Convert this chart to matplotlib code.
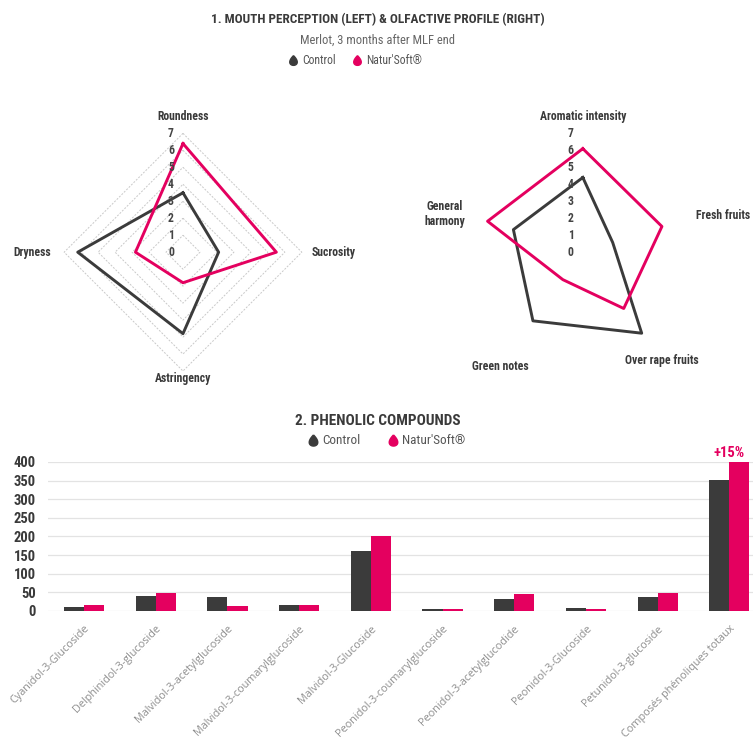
import numpy as np
import matplotlib
matplotlib.use("Agg")
import matplotlib.pyplot as plt
from matplotlib.path import Path
from matplotlib import font_manager
from matplotlib.transforms import offset_copy

# 1. mouth perception (left radar)
mouth_axes = ['Roundness', 'Sucrosity', 'Astringency', 'Dryness']
mouth_control = [3.5, 2.1, 4.8, 6.2]
mouth_natursoft = [6.4, 5.5, 1.8, 2.8]

# 1. olfactive profile (right radar)
olf_axes = ['Aromatic intensity', 'Fresh fruits', 'Over rape fruits',
            'Green notes', 'General\nharmony']
olf_control = [4.4, 1.85, 5.9, 5.0, 4.3]
olf_natursoft = [6.1, 4.9, 4.1, 2.0, 5.9]

radar_ticks = [0, 1, 2, 3, 4, 5, 6, 7]

# 2. phenolic compounds
compounds = ['Cyanidol-3-Glucoside', 'Delphinidol-3-glucoside',
             'Malvidol-3-acetylglucoside', 'Malvidol-3-coumarylglucoside',
             'Malvidol-3-Glucoside', 'Peonidol-3-coumarylglucoside',
             'Peonidol-3-acetylglucodide', 'Peonidol-3-Glucoside',
             'Petunidol-3-glucoside', 'Composés phénoliques totaux']
phen_control = [10, 39, 37, 15, 161, 6, 33, 7, 37, 351]
phen_natursoft = [15, 49, 14, 15, 202, 5, 46, 4, 47, 400]
phen_yticks = [0, 50, 100, 150, 200, 250, 300, 350, 400]
increase_label = '+15%'

DARK = '#3b3b3b'
PINK = '#e4005f'
TEXT = '#3a3a3a'


def pick_font(names):
    for name in names:
        try:
            font_manager.findfont(name, fallback_to_default=False)
            return name
        except Exception:
            continue
    return 'DejaVu Sans'


COND = pick_font(['Liberation Sans Narrow', 'Roboto Condensed', 'Roboto'])
LIGHT = pick_font(['Open Sans', 'Lato', 'DejaVu Sans'])
plt.rcParams['font.family'] = [COND, 'DejaVu Sans']

# teardrop marker for the legends
t = np.linspace(0, 2 * np.pi, 80)
drop = Path(np.column_stack([np.sin(t) * np.sin(t / 2), np.cos(t)]))

fig = plt.figure(figsize=(7.53, 7.45), dpi=100)

# overlay in pixel coords for titles / legends
over = fig.add_axes([0, 0, 1, 1], zorder=5)
over.set_xlim(0, 753)
over.set_ylim(745, 0)
over.axis('off')

over.text(378, 20, '1. MOUTH PERCEPTION (LEFT) & OLFACTIVE PROFILE (RIGHT)',
          ha='center', va='center', fontsize=9.5, fontweight='bold', color=TEXT)
over.text(378, 40, 'Merlot, 3 months after MLF end', ha='center', va='center',
          fontsize=9, color='#666666')
over.text(378, 421, '2. PHENOLIC COMPOUNDS', ha='center', va='center',
          fontsize=11, fontweight='bold', color=TEXT)


def legend_row(y, x0, x1, size):
    over.plot([x0], [y], marker=drop, markersize=size, color=DARK, ls='none')
    over.text(x0 + 9, y, 'Control', ha='left', va='center', fontsize=size + 1.5,
              color='#555555')
    over.plot([x1], [y], marker=drop, markersize=size, color=PINK, ls='none')
    over.text(x1 + 9, y, "Natur'Soft®", ha='left', va='center',
              fontsize=size + 1.5, color='#555555')


legend_row(60, 293, 357, 7)
legend_row(440, 313, 393, 8)


def draw_radar(rect, labels, control, natur, label_pos, grid):
    ax = fig.add_axes(rect, projection='polar')
    n = len(labels)
    angles = np.linspace(0, 2 * np.pi, n, endpoint=False)
    closed = np.append(angles, angles[0])
    ax.set_theta_zero_location('N')
    ax.set_theta_direction(-1)
    ax.set_ylim(0, 7)
    ax.axis('off')
    if grid:
        for r in radar_ticks[1:]:
            ax.plot(closed, [r] * (n + 1), color='#c9c9c9', lw=0.7,
                    ls=(0, (2, 1.5)), clip_on=False, zorder=1)
    ax.plot(closed, list(control) + [control[0]], color=DARK, lw=2.1,
            clip_on=False, zorder=3)
    ax.plot(closed, list(natur) + [natur[0]], color=PINK, lw=2.1,
            clip_on=False, zorder=3)
    shift = offset_copy(ax.transData, fig=fig, x=-12, y=0, units='dots')
    for r in radar_ticks:
        ax.text(0, r, str(r), transform=shift, ha='center', va='center',
                fontsize=8.5, fontweight='bold', color='#444444', zorder=4)
    for ang, lab, (r, ha, va) in zip(angles, labels, label_pos):
        ax.text(ang, r, lab, ha=ha, va=va, fontsize=8.5, fontweight='bold',
                color=TEXT, multialignment='center', clip_on=False)
    return ax


draw_radar([0.085, 0.502, 0.316, 0.319], mouth_axes, mouth_control,
           mouth_natursoft,
           [(7.6, 'center', 'bottom'), (7.6, 'left', 'center'),
            (7.05, 'center', 'top'), (7.8, 'right', 'center')], True)
draw_radar([0.616, 0.502, 0.316, 0.319], olf_axes, olf_control, olf_natursoft,
           [(7.6, 'center', 'bottom'), (7.0, 'left', 'center'),
            (7.9, 'center', 'center'), (8.3, 'center', 'center'),
            (7.3, 'right', 'center')], False)

# bar chart
ax = fig.add_axes([0.064, 0.180, 0.936, 0.200])
x = np.arange(len(compounds))
w = 0.28
ax.bar(x - w / 2, phen_control, w, color=DARK, zorder=3)
bars = ax.bar(x + w / 2, phen_natursoft, w, color=PINK, zorder=3)
ax.set_xlim(-0.5, 9.33)
ax.set_ylim(0, 400)
ax.set_yticks(phen_yticks)
ax.grid(axis='y', color='#e3e3e3', lw=0.9, zorder=0)
for s in ax.spines.values():
    s.set_visible(False)
ax.tick_params(axis='y', length=0, pad=9, labelsize=10.5, labelcolor=TEXT)
for lab in ax.get_yticklabels():
    lab.set_fontweight('bold')
ax.tick_params(axis='x', length=0, pad=9)
ax.set_xticks(x)
ax.set_xticklabels(compounds, rotation=45, ha='right', rotation_mode='anchor',
                   fontsize=7.8, color='#8e8e8e', family=[LIGHT, 'DejaVu Sans'])
last = bars[-1]
ax.text(last.get_x(), phen_natursoft[-1] + 6,
        increase_label, ha='center', va='bottom', fontsize=10.5,
        fontweight='bold', color=PINK, clip_on=False)

fig.savefig('out.png', dpi=100)
